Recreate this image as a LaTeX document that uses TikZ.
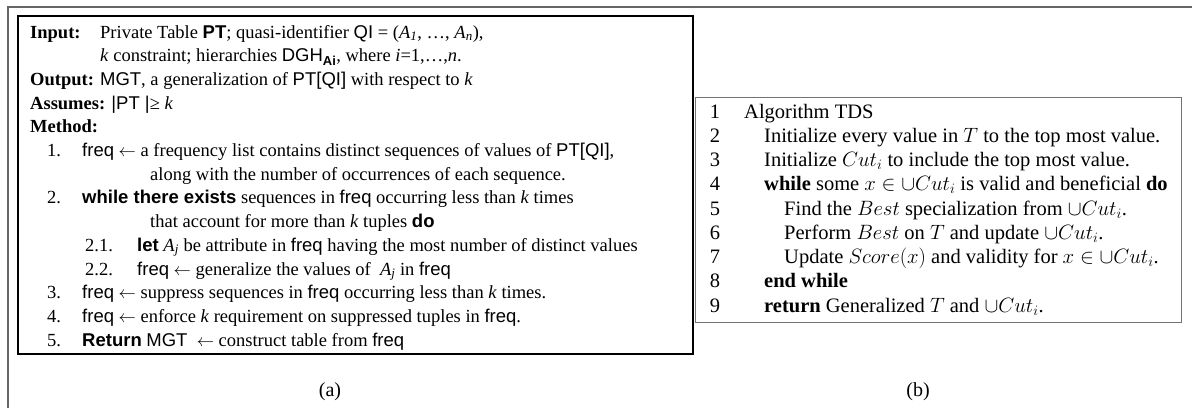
\documentclass[tikz,border=0pt]{standalone}
\usepackage{fontspec}
\setmainfont{Liberation Serif}
\setsansfont{Liberation Sans}
\usetikzlibrary{positioning}

\newcommand{\sfb}[1]{\textsf{\bfseries #1}}
\newcommand{\sfm}[1]{\textsf{#1}}
\newcommand{\ik}{\textit{k}}

\begin{document}
\begin{tikzpicture}[x=1pt, y=-1pt,
  txta/.style={anchor=base west, inner sep=0pt, font=\fontsize{18.5}{21}\selectfont},
  txtb/.style={anchor=base west, inner sep=0pt, font=\fontsize{20.5}{24}\selectfont},
  caption/.style={inner sep=0pt, font=\fontsize{20}{24}\selectfont}]
  \useasboundingbox (0,0) rectangle (1192,408);

  % outer frame, top and left only
  \draw[black!60, line width=1.5pt] (8,408) -- (8,7) -- (1192,7);

  % (a) the k-anonymity listing
  \draw[line width=2.5pt] (18,16) rectangle (693,354);
  \node[txta] (in-lbl) at (30,38) {\textbf{Input:}};
  \node[txta] (in-1) at (100,38) {Private Table \sfb{PT}; quasi-identifier \sfm{QI} = (\textit{A}\textsubscript{\textit{1}}, …, \textit{A}\textsubscript{\textit{n}}),};
  \node[txta] (in-2) at (100,61.7) {\ik{} constraint; hierarchies \sfm{DGH\textsubscript{\bfseries Ai}}, where \textit{i}=1,…,\textit{n}.};
  \node[txta] (out) at (30,85.4) {\textbf{Output:} \sfm{MGT}, a generalization of \sfm{PT[QI]} with respect to \ik};
  \node[txta] (assm) at (30,109.1) {\textbf{Assumes:} \sfm{|PT |}≥ \ik};
  \node[txta] (meth) at (30,132.8) {\textbf{Method:}};

  \node[txta] (n1) at (47,156.5) {1.};
  \node[txta] (s1) at (82,156.5) {\sfm{freq} $\leftarrow$ a frequency list contains distinct sequences of values of \sfm{PT[QI]},};
  \node[txta] (s1b) at (150,180.2) {along with the number of occurrences of each sequence.};
  \node[txta] (n2) at (47,203.9) {2.};
  \node[txta] (s2) at (82,203.9) {\sfb{while there exists} sequences in \sfm{freq} occurring less than \ik{} times};
  \node[txta] (s2b) at (150,227.6) {that account for more than \ik{} tuples \sfb{do}};
  \node[txta] (n21) at (85,251.3) {2.1.};
  \node[txta] (s21) at (137,251.3) {\sfb{let} \textit{A}\textsubscript{\textit{j}} be attribute in \sfm{freq} having the most number of distinct values};
  \node[txta] (n22) at (85,275) {2.2.};
  \node[txta] (s22) at (137,275) {\sfm{freq} $\leftarrow$ generalize the values of~ \textit{A}\textsubscript{\textit{j}} in \sfm{freq}};
  \node[txta] (n3) at (47,298.7) {3.};
  \node[txta] (s3) at (82,298.7) {\sfm{freq} $\leftarrow$ suppress sequences in \sfm{freq} occurring less than \ik{} times.};
  \node[txta] (n4) at (47,322.4) {4.};
  \node[txta] (s4) at (82,322.4) {\sfm{freq} $\leftarrow$ enforce \ik{} requirement on suppressed tuples in \sfm{freq}.};
  \node[txta] (n5) at (47,346.1) {5.};
  \node[txta] (s5) at (82,346.1) {\sfb{Return} \sfm{MGT}~ $\leftarrow$ construct table from \sfm{freq}};

  % (b) the TDS listing
  \draw[black!55, line width=1pt] (695,97) rectangle (1181,322);
  \foreach \i in {1,...,9} {
    \node[txtb, anchor=base] (b-num\i) at (715,{118+24.25*(\i-1)}) {\i};
  }
  \node[txtb] (b1) at (744,118) {Algorithm TDS};
  \node[txtb] (b2) at (764,142.25) {Initialize every value in $T$ to the top most value.};
  \node[txtb] (b3) at (764,166.5) {Initialize $Cut_i$ to include the top most value.};
  \node[txtb] (b4) at (764,190.75) {\textbf{while} some $x \in \cup Cut_i$ is valid and beneficial \textbf{do}};
  \node[txtb] (b5) at (784,215) {Find the $Best$ specialization from $\cup Cut_i$.};
  \node[txtb] (b6) at (784,239.25) {Perform $Best$ on $T$ and update $\cup Cut_i$.};
  \node[txtb] (b7) at (784,263.5) {Update $Score(x)$ and validity for $x \in \cup Cut_i$.};
  \node[txtb] (b8) at (764,287.75) {\textbf{end while}};
  \node[txtb] (b9) at (764,312) {\textbf{return} Generalized $T$ and $\cup Cut_i$.};

  % captions
  \node[caption] (cap-a) at (330,392) {(a)};
  \node[caption] (cap-b) at (918,392) {(b)};
\end{tikzpicture}
\end{document}
